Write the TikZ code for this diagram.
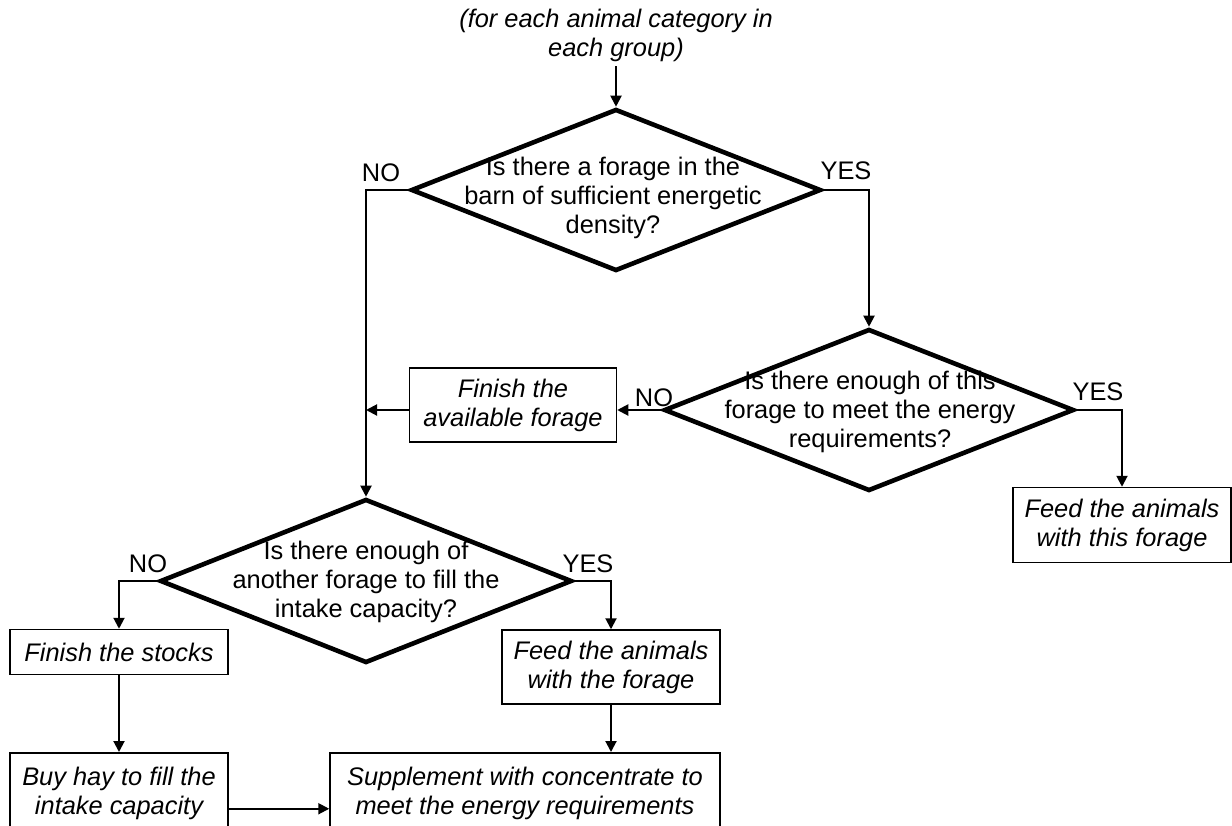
\documentclass[tikz,border=0pt]{standalone}
\usepackage{fontspec}
\setmainfont{Liberation Sans}
\usetikzlibrary{shapes.geometric, arrows.meta, positioning, calc}
\newcommand{\chartsize}{\fontsize{12.7pt}{14.5pt}\selectfont}
\tikzset{
    decision/.style={
        diamond,
        draw=black,
        line width=2.3pt,
        inner sep=0pt,
        minimum width=205pt,
        minimum height=81pt,
    },
    question/.style={
        align=center,
        inner sep=0pt,
        font=\chartsize,
    },
    block/.style={
        rectangle,
        draw=black,
        line width=0.75pt,
        align=center,
        inner sep=2pt,
        font=\chartsize\itshape,
        minimum width=109pt,
        minimum height=37pt,
    },
    answer/.style={
        inner sep=0pt,
        font=\chartsize,
    },
}

\begin{document}
\begin{tikzpicture}[x=0.5pt, y=-0.5pt, >={Triangle[length=5.5pt,width=5.5pt]}, line width=1pt]
      \useasboundingbox (0,0) rectangle (1232,825);

      \node[question, font=\chartsize\itshape, inner sep=2pt] (start) at (616,35) {(for each animal category in\\each group)};

      % questions
      \node[decision] (d1) at (616,190) {};
      \node[question] (d1text) at (613,198) {Is there a forage in the\\barn of sufficient energetic\\density?};

      \node[decision] (d2) at (869,410) {};
      \node[question] (d2text) at (870,412) {Is there enough of this\\forage to meet the energy\\requirements?};

      \node[decision, minimum width=206pt, minimum height=82pt] (d3) at (366,581) {};
      \node[question] (d3text) at (366,582) {Is there enough of\\another forage to fill the\\intake capacity?};

      % actions
      \node[block, minimum width=103.5pt] (avail) at (513,405) {Finish the\\available forage};
      \node[block, minimum height=37.5pt] (thisfeed) at (1122,525) {Feed the animals\\with this forage};
      \node[block, minimum height=22.5pt] (stocks) at (119,652) {Finish the stocks};
      \node[block] (thefeed) at (611,667) {Feed the animals\\with the forage};
      \node[block, anchor=north, minimum height=41pt] (buy) at (119,752) {Buy hay to fill the\\intake capacity};
      \node[block, anchor=north, minimum width=195pt, minimum height=41pt] (sup) at (525,752) {Supplement with concentrate to\\meet the energy requirements};

      % answers
      \node[answer] (no1) at (381,173) {NO};
      \node[answer] (yes1) at (846,171) {YES};
      \node[answer] (no2) at (654,398) {NO};
      \node[answer] (yes2) at (1098,392) {YES};
      \node[answer] (no3) at (148,564) {NO};
      \node[answer] (yes3) at (588,564) {YES};

      \coordinate (availin) at (d2.west -| avail.east);
      \coordinate (availout) at (d2.west -| avail.west);
      \coordinate (merge) at (d2.west -| d3.north);

      \draw[->] (start) -- (d1);
      \draw[->] (d1.west) -| (d3.north);
      \draw[->] (d1.east) -| (d2.north);
      \draw[->] (d2.west) -- (availin);
      \draw[->] (availout) -- (merge);
      \draw[->] (d2.east) -| (thisfeed.north);
      \draw[->] (d3.west) -| (stocks.north);
      \draw[->] (d3.east) -| (thefeed.north);
      \draw[->] (stocks) -- (buy);
      \draw[->] (thefeed.south) -- (thefeed.south |- sup.north);
      \draw[->] ([yshift=-7.5pt]buy.east) -- ([yshift=-7.5pt]buy.east -| sup.west);
    \end{tikzpicture}
\end{document}
